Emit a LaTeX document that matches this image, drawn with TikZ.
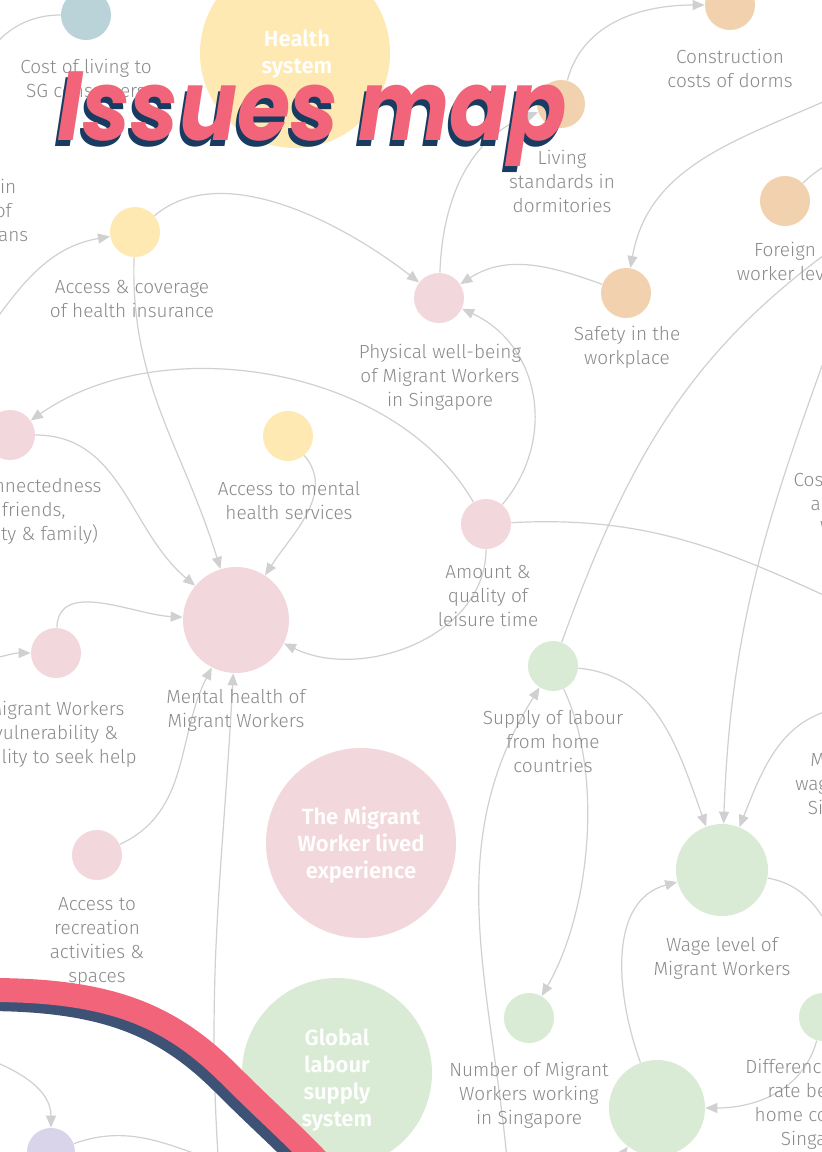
\documentclass[tikz,border=0pt]{standalone}
\usepackage{fontspec}
\setmainfont{Fira Sans}[UprightFont=* Light, BoldFont=* SemiBold]
\newfontfamily\titlefont{Poppins}
\usetikzlibrary{arrows.meta, positioning}
\definecolor{dotpink}{HTML}{F2D8DC}
\definecolor{dotyellow}{HTML}{FEE9B2}
\definecolor{dotpeach}{HTML}{F2D2AE}
\definecolor{dotgreen}{HTML}{D9EBD4}
\definecolor{dotblue}{HTML}{B9D3D9}
\definecolor{dotlilac}{HTML}{DAD4EA}
\definecolor{txtgray}{HTML}{8A8A8A}
\definecolor{edgegray}{HTML}{D0D0D0}
\definecolor{titlepink}{HTML}{F16479}
\definecolor{titlenavy}{HTML}{173B61}
\definecolor{swooshnavy}{HTML}{3E5276}

\begin{document}
\begin{tikzpicture}[x=0.5pt, y=0.5pt,
    dot/.style={circle, inner sep=0pt, minimum size=#1},
    lbl/.style={text=txtgray, align=center, font=\fontsize{9.5}{12}\selectfont},
    hub/.style={text=white, align=center, font=\fontsize{11}{13.5}\selectfont\bfseries},
    wire/.style={draw=edgegray, line width=0.6pt},
    link/.style={wire, -{Triangle[length=6pt, width=5pt]}},
    titletxt/.style={anchor=base west, inner sep=0pt, font=\titlefont\bfseries\itshape\fontsize{49}{49}\selectfont}]
    \useasboundingbox (0,0) rectangle (821,-1152);
    \fill[white] (0,0) rectangle (821,-1152);

    % Issue circles: name/x/y/size/colour
    \foreach \n/\x/\y/\d/\c in {cost/86/15/25/dotblue, health/295/53/95/dotyellow,
        living/561/104/24/dotpeach, constr/730/5/25/dotpeach, levy/785/201/25/dotpeach,
        safety/626/293/25/dotpeach, phys/439/298/25/dotpink, insur/135/232/25/dotyellow,
        social/10/435/25/dotpink, mentacc/288/436/25/dotyellow, leisure/486/524/25/dotpink,
        mental/236/620/53/dotpink, vuln/56/653/25/dotpink, recre/97/855/25/dotpink,
        lived/361/843/95/dotpink, supply/553/666/25/dotgreen, wage/722/870/46/dotgreen,
        global/337/1073/95/dotgreen, number/529/1018/25/dotgreen, workers/657/1108/48/dotgreen,
        diff/823/1017/24/dotgreen, lilac/51/1152/24/dotlilac} {
        \node[dot=\d pt, fill=\c] (\n) at (\x,-\y) {};
    }

    % Loose ends running off the page
    \coordinate (costout) at (-25,-80);
    \coordinate (insurin) at (-15,-335);
    \coordinate (safetyin) at (845,-92);
    \coordinate (levyout) at (845,-150);
    \coordinate (supplyout) at (845,-240);
    \coordinate (wagein) at (835,-330);
    \coordinate (leisout) at (845,-605);
    \coordinate (minwage) at (840,-708);
    \coordinate (wageout) at (850,-965);
    \coordinate (vulnin) at (-15,-660);
    \coordinate (mentalin) at (219,-1170);
    \coordinate (supplyin) at (508,-1170);
    \coordinate (workersin) at (585,-1180);
    \coordinate (lilacin) at (-15,-1058);
    \coordinate (lilacout) at (245,-1170);

    % Links
    \draw[wire] (cost) to[out=180,in=70] (costout);
    \draw[link] (insurin) to[out=55,in=190] (insur);
    \draw[link] (insur) to[out=40,in=142,looseness=0.85] (phys);
    \draw[link] (insur) to[out=-92,in=107] (mental);
    \draw[link] (social) to[out=0,in=140] (mental);
    \draw[link] (leisure) to[out=120,in=35,looseness=0.9] (social);
    \draw[link] (mentacc) to[out=-50,in=57] (mental);
    \draw[link] (leisure) to[out=-90,in=-26] (mental);
    \draw[link] (leisure) to[out=50,in=-25,looseness=1.1] (phys);
    \draw[link] (safety) to[out=160,in=33] (phys);
    \draw[link] (phys) to[out=88,in=200] (living);
    \draw[link] (living) to[out=75,in=180] (constr);
    \draw[link] (safetyin) to[out=205,in=80] (safety);
    \draw[wire] (levy) to[out=45,in=225] (levyout);
    \draw[wire] (supply) to[out=70,in=215] (supplyout);
    \draw[link] (wagein) to[out=250,in=88] (wage);
    \draw[wire] (leisure) to[out=3,in=155] (leisout);
    \draw[link] (vuln) to[out=88,in=177] (mental);
    \draw[link] (vulnin) to[out=10,in=180] (vuln);
    \draw[link] (recre) to[out=25,in=-117] (mental);
    \draw[link] (mentalin) to[out=94,in=-93] (mental);
    \draw[link] (supply) to[out=-5,in=110] (wage);
    \draw[link] (supply) to[out=-65,in=60,looseness=0.8] (number);
    \draw[link] (supplyin) to[out=95,in=-122] (supply);
    \draw[link] (minwage) to[out=190,in=68] (wage);
    \draw[wire] (wage) to[out=-10,in=120] (wageout);
    \draw[link] (diff) to[out=-105,in=0] (workers);
    \draw[link] (workers) to[out=110,in=195] (wage);
    \draw[link] (workersin) to[out=60,in=233] (workers);
    \draw[link] (lilacin) to[out=-20,in=90] (lilac);
    \draw[wire] (lilac) to[out=20,in=165] (lilacout);

    % Labels under the circles
    \node[lbl] (costtxt) at (86,-78) {Cost of living to\\SG consumers};
    \node[lbl] (livingtxt) at (562,-181) {Living\\standards in\\dormitories};
    \node[lbl] (constrtxt) at (730,-68) {Construction\\costs of dorms};
    \node[lbl] (levytxt) at (785,-263) {Foreign\\worker levy};
    \node[lbl] (safetytxt) at (627,-347) {Safety in the\\workplace};
    \node[lbl] (phystxt) at (440,-377) {Physical well-being\\of Migrant Workers\\in Singapore};
    \node[lbl] (insurtxt) at (132,-299) {Access \& coverage\\of health insurance};
    \node[lbl] (fairtxt) at (-29,-212) {Fairness in\\society of\\Singaporeans};
    \node[lbl] (socialtxt) at (10,-511) {Social connectedness\\(with friends,\\community \& family)};
    \node[lbl] (mentacctxt) at (289,-501) {Access to mental\\health services};
    \node[lbl] (leisuretxt) at (488,-596) {Amount \&\\quality of\\leisure time};
    \node[lbl] (mentaltxt) at (236,-710) {Mental health of\\Migrant Workers};
    \node[lbl] (vulntxt) at (56,-734) {Migrant Workers\\vulnerability \&\\ability to seek help};
    \node[lbl] (recretxt) at (97,-942) {Access to\\recreation\\activities \&\\spaces};
    \node[lbl] (supplytxt) at (553,-742) {Supply of labour\\from home\\countries};
    \node[lbl] (wagetxt) at (722,-958) {Wage level of\\Migrant Workers};
    \node[lbl] (numbertxt) at (529,-1095) {Number of Migrant\\Workers working\\in Singapore};
    \node[lbl] (difftxt) at (823,-1104) {Difference in wage\\rate between\\home country \&\\Singapore};
    \node[lbl] (minwagetxt) at (850,-785) {Minimum\\wage level in\\Singapore};
    \node[lbl] (hiretxt) at (850,-503) {Cost of hiring\\a Migrant\\Worker};

    % System hubs
    \node[hub] (healthtxt) at (297,-54) {Health\\system};
    \node[hub] (livedtxt) at (361,-845) {The Migrant\\Worker lived\\experience};
    \node[hub] (globaltxt) at (337,-1080) {Global\\labour\\supply\\system};

    % Swoosh
    \draw[line width=12pt, swooshnavy] (-16,-999) .. controls (104,-999) and (164,-1024) .. (224,-1084) .. controls (269,-1129) and (294,-1149) .. (334,-1194);
    \draw[line width=12pt, titlepink] (-10,-990) .. controls (110,-990) and (170,-1015) .. (230,-1075) .. controls (275,-1120) and (300,-1140) .. (340,-1185);

    % Title
    \node[titletxt, text=titlenavy] (titleshade) at (54,-146) {\scalebox{0.88}[1]{Issues map}};
    \node[titletxt, text=titlepink] (title) at (57,-140) {\scalebox{0.88}[1]{Issues map}};
\end{tikzpicture}
\end{document}
